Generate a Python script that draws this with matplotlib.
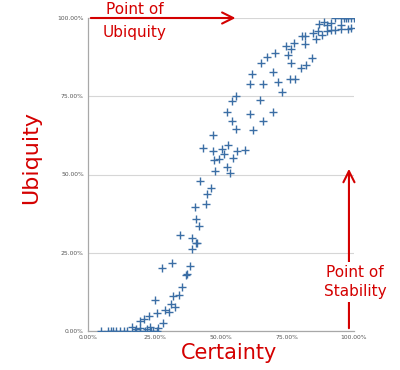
import matplotlib.pyplot as plt
from matplotlib.ticker import FuncFormatter

# certainty (x, %) and ubiquity (y, %)
certainty = [5, 7.5, 8.5, 9.5, 10.5, 12, 13.5, 14.5, 17.5, 19.5, 21.5, 23.5, 24.5, 26,
             16.5, 18, 19.6, 22, 23.4, 26.2, 28.2, 19.6, 21.2, 22.8, 25.9, 25.2,
             29, 30.3, 31.3, 32.8, 32, 34.3, 35.5, 36.9, 37.2, 38.2, 27.8, 31.6,
             39.1, 41, 40.5, 39, 34.5, 41.6, 40.5, 40.1, 44.3, 44.6, 46.2, 42,
             47.8, 52.2, 53.3, 47.5, 49.4, 54.5, 51.3, 43.4, 46.9, 50.3, 52.7,
             55.9, 58.9, 46.9, 55.7, 62.2, 54, 65.7, 52.1, 60.8, 69.7, 54.1, 55.6,
             64.6, 73.1, 60.8, 65.8, 71.4, 76, 77.8, 61.5, 69.6, 80, 82, 65.2,
             76.2, 67.2, 84.1, 70.2, 75, 74.6, 76.4, 77.5, 81.6, 80.4, 81.6, 85.8,
             84.5, 86.3, 87.8, 89.7, 91.2, 92.9, 95.3, 97.6, 98.7, 86.8, 88.8, 90,
             91.4, 95.1, 92.8, 95.1, 96.4, 97, 97.6, 98.9, 100]
ubiquity = [0, 0, 0, 0, 0, 0, 0, 0, 0, 0, 0, 0, 0, 0,
            1.4, 0.6, 1, 0.5, 1.2, 1.1, 2.7, 3.2, 3.7, 4.9, 5.8, 9.9,
            6.7, 6, 8.6, 7.8, 11.2, 11.5, 14, 17.9, 18.2, 20.8, 20, 21.6,
            26.1, 28, 28, 29.7, 30.6, 33.4, 35.9, 39.7, 40.7, 43.9, 45.6, 47.8,
            51, 52.5, 50.5, 54.7, 55.1, 55.4, 56.5, 58.5, 57.5, 58.2, 59.4,
            57.6, 57.7, 62.5, 64.6, 64.1, 67, 67, 69.9, 69.2, 70, 73.5, 75,
            73.8, 76.5, 78.8, 79, 79.5, 80.4, 80.4, 82.2, 82.6, 84.1, 85.1, 85.5,
            85.5, 87.6, 87.3, 88.8, 88.3, 91, 90, 91.9, 91.6, 94.1, 94.1, 93.3,
            95.3, 95.7, 94.7, 95.7, 96.1, 96.3, 96.4, 96.5, 96.9, 98, 98.8, 97.8,
            98.4, 97.8, 100, 100, 100, 100, 100, 100, 100]
ticks = [0, 25, 50, 75, 100]

red = '#d40000'
W, H = 400, 370

fig = plt.figure(figsize=(4, 3.7), dpi=100)
ax = fig.add_axes([88 / W, 1 - 331 / H, (354 - 88) / W, (331 - 18) / H])

ax.scatter(certainty, ubiquity, marker='+', s=26, linewidths=1.0,
           color='#3b6ea5', zorder=3)

ax.set_xlim(0, 100)
ax.set_ylim(0, 100)
ax.set_xticks(ticks)
ax.set_yticks(ticks)
pct = FuncFormatter(lambda v, p: f'{v:.2f}%')
ax.xaxis.set_major_formatter(pct)
ax.yaxis.set_major_formatter(pct)
ax.tick_params(length=0, labelsize=4.3, labelcolor='#555555', pad=3)
ax.grid(axis='y', color='#d6d6d6', linewidth=0.8)
ax.set_axisbelow(True)
for s in ['top', 'right']:
    ax.spines[s].set_visible(False)
for s in ['left', 'bottom']:
    ax.spines[s].set_color('#a8a8a8')
    ax.spines[s].set_linewidth(0.9)

# hand-drawn style annotations
ax.annotate('', xy=(56.5, 100), xytext=(0, 100), annotation_clip=False,
            arrowprops=dict(arrowstyle='->', color=red, lw=1.5,
                            mutation_scale=20), zorder=4)
ax.annotate('', xy=(98.1, 52.7), xytext=(98.1, 0), annotation_clip=False,
            arrowprops=dict(arrowstyle='->', color=red, lw=1.5,
                            mutation_scale=20), zorder=4)

fig.text(135 / W, 1 - 10 / H, 'Point of', color=red, fontsize=11,
         ha='center', va='center')
fig.text(135 / W, 1 - 32 / H, 'Ubiquity', color=red, fontsize=11,
         ha='center', va='center')
fig.text(355 / W, 1 - 282 / H, 'Point of\nStability', color=red, fontsize=11,
         ha='center', va='center', linespacing=1.3, zorder=5,
         bbox=dict(facecolor='white', edgecolor='none', pad=2))

fig.text(31 / W, 1 - 157 / H, 'Ubiquity', color=red, fontsize=16,
         rotation=90, ha='center', va='center')
fig.text(229 / W, 1 - 353 / H, 'Certainty', color=red, fontsize=15,
         ha='center', va='center')

fig.savefig('out.png', dpi=100)
